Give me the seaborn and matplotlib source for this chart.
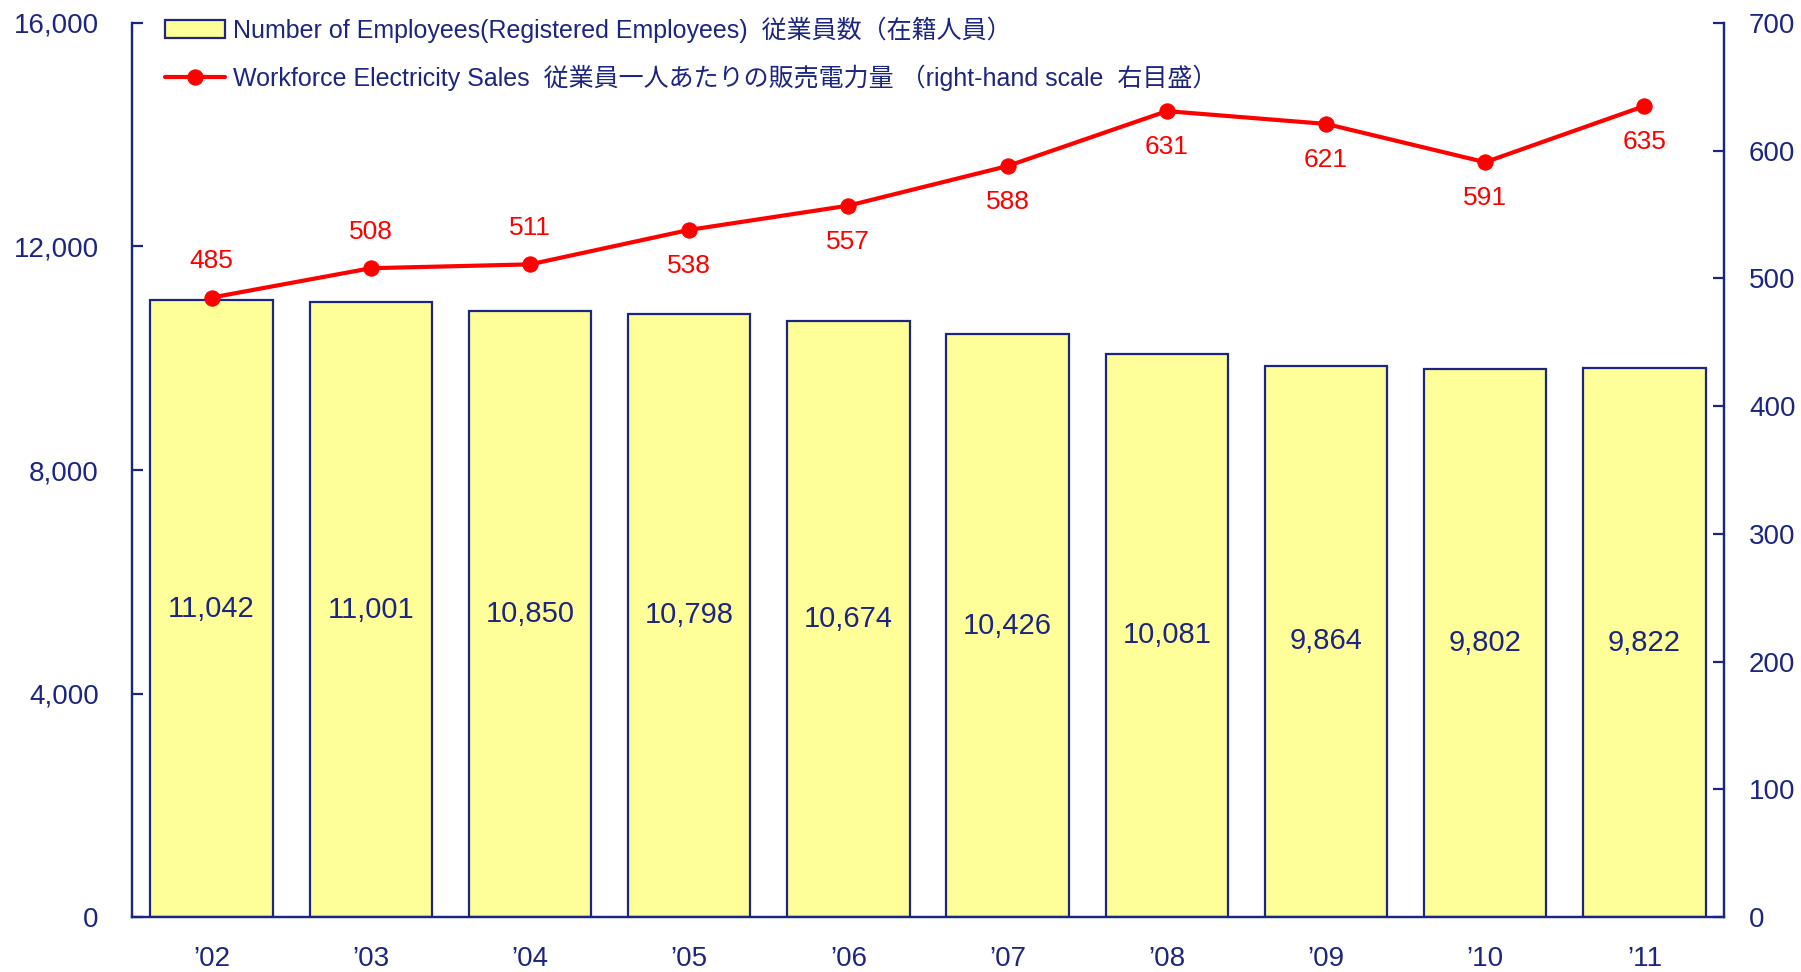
import numpy as np
import pandas as pd
import matplotlib
matplotlib.use("Agg")
import matplotlib.pyplot as plt
from matplotlib.ticker import FuncFormatter, FixedLocator
import seaborn as sns

years = ["’02", "’03", "’04", "’05", "’06", "’07", "’08", "’09", "’10", "’11"]
employees = [11042, 11001, 10850, 10798, 10674, 10426, 10081, 9864, 9802, 9822]
sales_per_worker = [485, 508, 511, 538, 557, 588, 631, 621, 591, 635]
label_above = [True, True, True, False, False, False, False, False, False, False]

bar_name = "Number of Employees(Registered Employees)  従業員数（在籍人員）"
line_name = "Workforce Electricity Sales  従業員一人あたりの販売電力量 （right-hand scale  右目盛）"

navy = "#1c2580"
red = "#ff0000"
yellow = "#ffff99"

sns.set_style("white")
plt.rcParams["font.family"] = ["Liberation Sans", "Noto Sans CJK JP", "DejaVu Sans"]

df = pd.DataFrame({"year": years, "employees": employees,
                   "sales": sales_per_worker, "pos": np.arange(len(years))})

fig = plt.figure(figsize=(18.01, 9.72), dpi=100)
ax = fig.add_axes([132 / 1801, 1 - 917 / 972, (1724 - 132) / 1801, (917 - 23) / 972])

sns.barplot(data=df, x="year", y="employees", ax=ax, color=yellow, saturation=1,
            width=0.77, edgecolor=navy, linewidth=1.6, label=bar_name)
ax.set_xlim(-0.5, len(years) - 0.5)
ax.set_ylim(0, 16000)
ax.set_yticks([0, 4000, 8000, 12000, 16000])
ax.yaxis.set_major_formatter(FuncFormatter(lambda v, p: f"{int(v):,}"))
ax.set_xlabel("")
ax.set_ylabel("")

for i, v in enumerate(employees):
    ax.text(i, v / 2, f"{v:,}", ha="center", va="center", fontsize=21, color=navy)

ax2 = ax.twinx()
sns.lineplot(data=df, x="pos", y="sales", ax=ax2, color=red, linewidth=3,
             marker="o", markersize=11, markeredgecolor=red, label=line_name, legend=False)
ax2.set_ylim(0, 700)
ax2.set_yticks(range(0, 701, 100))
ax2.set_ylabel("")
ax2.set_xlim(-0.5, len(years) - 0.5)

for i, v in enumerate(sales_per_worker):
    off = 26 if label_above[i] else -26
    ax2.annotate(str(v), (i, v), xytext=(0, off), textcoords="offset points",
                 ha="center", va="center", fontsize=19, color=red)

for a in (ax, ax2):
    for s in a.spines.values():
        s.set_color(navy)
        s.set_linewidth(1.6)
    a.spines["top"].set_visible(False)

ax.tick_params(axis="y", direction="in", length=8, width=1.6, color=navy,
               labelcolor=navy, labelsize=20, pad=24)
ax2.tick_params(axis="y", direction="in", length=8, width=1.6, color=navy,
                labelcolor=navy, labelsize=20, pad=18)
ax.tick_params(axis="x", which="major", length=0, labelcolor=navy, labelsize=20, pad=21)
ax.xaxis.set_minor_locator(FixedLocator(np.arange(0.5, len(years) - 1, 1)))
ax.tick_params(axis="x", which="minor", direction="in", length=8, width=1.6, color=navy)
ax2.tick_params(axis="x", which="both", length=0, labelbottom=False)

h1, l1 = ax.get_legend_handles_labels()
h2, l2 = ax2.get_legend_handles_labels()
if ax.get_legend() is not None:
    ax.get_legend().remove()
fig.legend(h1 + h2, l1 + l2, loc="upper left", bbox_to_anchor=(142 / 1801, 1 + 6 / 972),
           frameon=False, fontsize=18, labelcolor=navy, handlelength=2.4,
           handletextpad=0.35, labelspacing=0.85)

fig.savefig("out.png", dpi=100)
